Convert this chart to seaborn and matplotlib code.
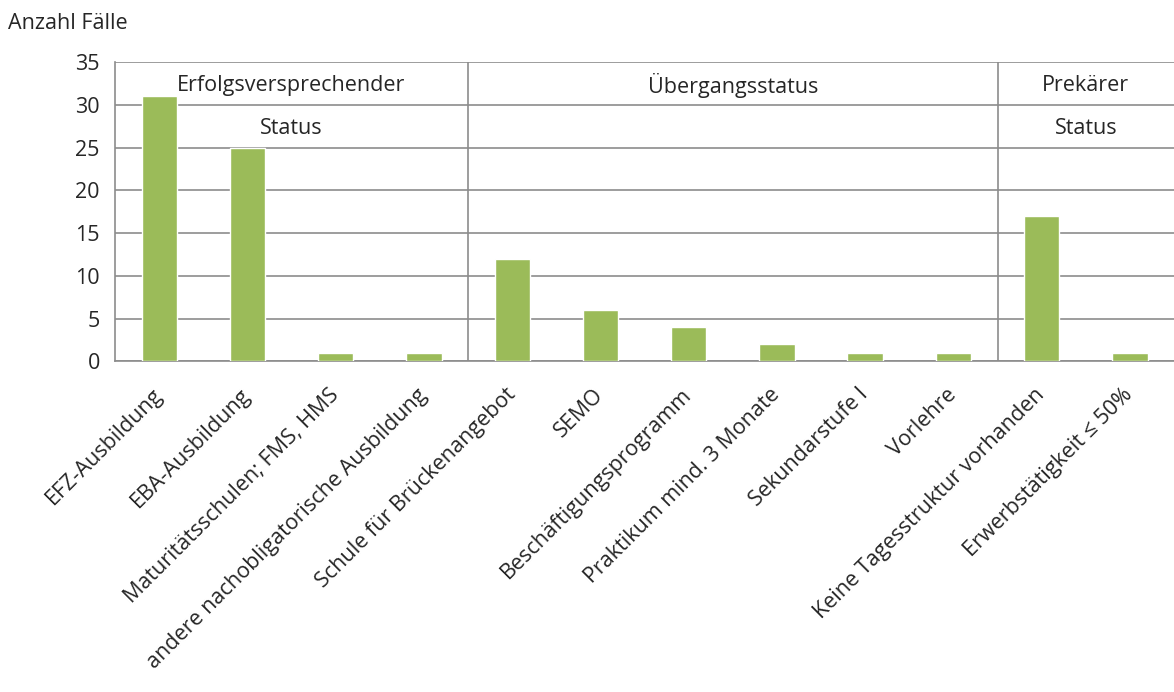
import pandas as pd
import numpy as np
import matplotlib.pyplot as plt
import seaborn as sns

# Data
categories = [
    'EFZ-Ausbildung',
    'EBA-Ausbildung',
    'Maturitätsschulen; FMS, HMS',
    'andere nachobligatorische Ausbildung',
    'Schule für Brückenangebot',
    'SEMO',
    'Beschäftigungsprogramm',
    'Praktikum mind. 3 Monate',
    'Sekundarstufe I',
    'Vorlehre',
    'Keine Tagesstruktur vorhanden',
    'Erwerbstätigkeit ≤ 50%',
]
counts = [31, 25, 1, 1, 12, 6, 4, 2, 1, 1, 17, 1]

# status groups: label lines and number of categories in each group
group_labels = [['Erfolgsversprechender', 'Status'], ['Übergangsstatus'], ['Prekärer', 'Status']]
group_sizes = [4, 6, 2]

df = pd.DataFrame({'Kategorie': categories, 'Anzahl': counts})

sns.set_style('white')
plt.rcParams['font.family'] = ['Open Sans', 'DejaVu Sans']
fs = 15.5

fig = plt.figure(figsize=(11.74, 6.92), dpi=100)
ax = fig.add_axes([0.098, 0.478, 0.902, 0.432])

grid_col = '#8c8c8c'
sns.barplot(data=df, x='Kategorie', y='Anzahl', color='#9bbb59', saturation=1,
            width=0.4, ax=ax, zorder=3)

ax.set_ylim(0, 35)
ax.set_yticks(np.arange(0, 36, 5))
ax.set_xlim(-0.5, len(categories) - 0.5)
ax.yaxis.grid(True, color=grid_col, linewidth=1.2, zorder=0)
ax.set_axisbelow(True)

for side in ['top', 'right']:
    ax.spines[side].set_visible(False)
ax.spines['left'].set_color(grid_col)
ax.spines['bottom'].set_color(grid_col)
ax.spines['left'].set_linewidth(1.2)
ax.spines['bottom'].set_linewidth(1.2)

# category boundary ticks below the axis
ax.set_xticks(np.arange(len(categories)))
ax.set_xticklabels(categories, rotation=45, ha='right', va='center',
                   rotation_mode='anchor', fontsize=fs)
ax.tick_params(axis='x', which='major', length=0, pad=22)
ax.set_xticks(np.arange(-0.5, len(categories) - 0.5, 1), minor=True)
ax.tick_params(axis='x', which='minor', length=8, color=grid_col, width=1.2)
ax.tick_params(axis='y', length=7, color=grid_col, width=1.2, labelsize=fs, pad=4)
ax.set_xlabel('')
ax.set_ylabel('')

# group separators and group labels
start = 0
for sizes, lines in zip(group_sizes, group_labels):
    end = start + sizes
    if end < len(categories):
        ax.axvline(end - 0.5, color=grid_col, linewidth=1.2, zorder=1)
    mid = (start + end - 1) / 2
    for i, line in enumerate(lines):
        ax.text(mid, 32.3 - i * 5, line, ha='center', va='center', fontsize=fs, zorder=4)
    start = end

fig.text(0.007, 0.966, 'Anzahl Fälle', fontsize=fs, ha='left', va='center')

plt.savefig('out.png', dpi=100)
